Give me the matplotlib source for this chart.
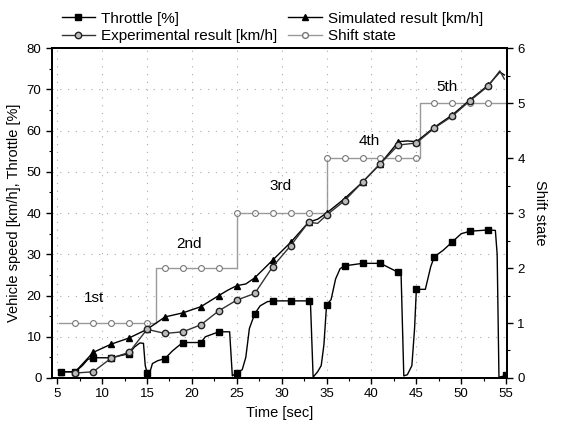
import numpy as np
import matplotlib
matplotlib.use("Agg")
from matplotlib import pyplot as plt
from matplotlib.ticker import MultipleLocator
from matplotlib.lines import Line2D

plt.rcParams['font.family'] = ['Liberation Sans', 'DejaVu Sans']

# throttle [%] (dense trace, markers at odd seconds)
throttle_t = [5.4, 7, 7.8, 8.4, 9, 11, 13, 13.6, 14.2, 14.6, 14.8, 15, 15.3, 15.6, 16.2, 17, 17.8, 18.4,
              19, 21, 21.5, 23, 24.2, 24.5, 25, 25.6, 26, 26.4, 27, 27.6, 28.4, 29, 31, 33, 33.2, 33.5,
              34, 34.4, 34.7, 35, 35.5, 36, 36.5, 37, 39, 41, 43, 43.3, 43.6, 44, 44.5, 44.8, 45, 46,
              46.6, 47, 48, 49, 50, 51, 53, 53.8, 54, 54.2, 55]
throttle_v = [1.5, 1.5, 3, 4.5, 4.9, 4.9, 5.9, 7.5, 8.5, 8.4, 3, 1.3, 1.3, 3.5, 4.2, 4.7, 6.5, 7.6,
              8.6, 8.6, 10, 11.2, 11.2, 0.5, 1.3, 2, 5, 12, 15.6, 17.5, 18.5, 18.7, 18.7, 18.7, 18.5, 0.2,
              1.5, 3, 8, 17.8, 19, 24, 26.5, 27.2, 27.8, 27.8, 25.6, 25, 0.5, 0.8, 3, 12, 21.5, 21.5,
              27, 29.4, 31, 33, 35, 35.6, 35.9, 35.8, 30, 0.2, 0.6]

# simulated vehicle speed [km/h]
sim_t = [5.4, 7, 9, 11, 13, 15, 17, 19, 21, 23, 24, 25, 26, 27, 29, 31, 33, 34, 35, 37, 39, 41, 43,
         44, 45, 47, 49, 51, 53, 54.3, 54.8]
sim_v = [1.5, 1.5, 6.2, 8.2, 9.7, 11.8, 14.8, 15.8, 17.3, 20, 21.3, 22.4, 22.8, 24.3, 28.6, 32.9,
         37.8, 38.5, 40, 43.5, 47.5, 52, 57.3, 57.5, 57.3, 60.8, 63.8, 67.5, 71, 74.2, 73.5]

# experimental vehicle speed [km/h]
exp_t = [7, 9, 11, 13, 15, 17, 19, 21, 23, 25, 27, 29, 31, 33, 34, 35, 37, 39, 41, 43, 45, 47,
         49, 51, 53, 54.3, 54.8]
exp_v = [1.2, 1.5, 4.8, 6.2, 11.8, 10.8, 11.2, 12.9, 16.3, 18.9, 20.5, 27, 32.1, 37.8, 37.5, 39.5,
         43, 47.5, 52, 56.5, 57, 60.6, 63.5, 67.3, 70.8, 74.5, 72.5]

# shift state (step path + markers)
shift_t = [5.2, 16, 16, 25, 25, 35, 35, 45.4, 45.4, 55]
shift_v = [1, 1, 2, 2, 3, 3, 4, 4, 5, 5]
shift_mark_t = [7, 9, 11, 13, 15, 17, 19, 21, 23, 25, 27, 29, 31, 33, 35, 37, 39, 41, 43, 45,
                47, 49, 51, 53]
shift_mark_v = [1, 1, 1, 1, 1, 2, 2, 2, 2, 3, 3, 3, 3, 3, 4, 4, 4, 4, 4, 4, 5, 5, 5, 5]

gear_names = ['1st', '2nd', '3rd', '4th', '5th']
gear_pos = [(9.1, 19.5), (19.7, 32.6), (29.9, 46.5), (39.8, 57.4), (48.4, 70.5)]


def odd_marks(t):
    # marker on first point and on every odd whole second
    t = np.asarray(t)
    idx = np.where((np.abs(t - np.round(t)) < 1e-6) & (np.round(t) % 2 == 1))[0]
    return sorted(set([0] + list(idx)))


fig = plt.figure(figsize=(5.64, 4.30), dpi=100)
ax = fig.add_axes([0.092, 0.121, 0.807, 0.767])
ax2 = ax.twinx()

ax2.plot(shift_t, shift_v, color='#999999', lw=1.0, zorder=1)
ax2.plot(shift_mark_t, shift_mark_v, ls='none', marker='o', ms=4.2, mfc='white', mec='#777777', mew=0.8)
ax2.set_ylim(0, 6)
ax2.yaxis.set_major_locator(MultipleLocator(1))
ax2.yaxis.set_minor_locator(MultipleLocator(0.5))
ax2.set_ylabel('Shift state', rotation=270, labelpad=16, fontsize=10.5)

ax.set_zorder(ax2.get_zorder() + 1)
ax.patch.set_visible(False)

ax.plot(throttle_t, throttle_v, color='black', lw=1.0, marker='s', ms=4.3, markevery=odd_marks(throttle_t))
ax.plot(sim_t, sim_v, color='black', lw=1.0, marker='^', ms=4.8, markevery=odd_marks(sim_t))
ax.plot(exp_t, exp_v, color='#333333', lw=1.0, marker='o', ms=4.6, mfc='#bbbbbb', mec='#222222',
        mew=1.0, markevery=odd_marks(exp_t))

for name, (x, y) in zip(gear_names, gear_pos):
    ax.text(x, y, name, ha='center', va='center', fontsize=11)

ax.set_xlim(4.4, 55.1)
ax.set_ylim(0, 80)
ax.xaxis.set_major_locator(MultipleLocator(5))
ax.xaxis.set_minor_locator(MultipleLocator(2.5))
ax.yaxis.set_major_locator(MultipleLocator(10))
ax.yaxis.set_minor_locator(MultipleLocator(5))
ax.grid(True, which='major', color='#aaaaaa', ls=(0, (1, 6)), lw=0.8)
ax.set_xlabel('Time [sec]', fontsize=10.5)
ax.set_ylabel('Vehicle speed [km/h], Throttle [%]', fontsize=10.5)

for a in (ax, ax2):
    for s in a.spines.values():
        s.set_linewidth(1.4)
    a.tick_params(which='major', length=4, width=1.0, labelsize=9.5)
    a.tick_params(which='minor', length=2.5, width=0.8)

handles = [
    Line2D([], [], color='black', lw=1.0, marker='s', ms=4.3),
    Line2D([], [], color='#333333', lw=1.0, marker='o', ms=4.6, mfc='#bbbbbb', mec='#222222'),
    Line2D([], [], color='black', lw=1.0, marker='^', ms=4.8),
    Line2D([], [], color='#999999', lw=1.0, marker='o', ms=4.2, mfc='white', mec='#777777'),
]
labels = ['Throttle [%]', 'Experimental result [km/h]', 'Simulated result [km/h]', 'Shift state']
fig.legend(handles, labels, ncol=2, loc='upper left', bbox_to_anchor=(0.085, 1.005), frameon=False,
           fontsize=11, handlelength=2.2, handletextpad=0.4, columnspacing=0.7, labelspacing=0.25)

fig.savefig('out.png', dpi=100)
